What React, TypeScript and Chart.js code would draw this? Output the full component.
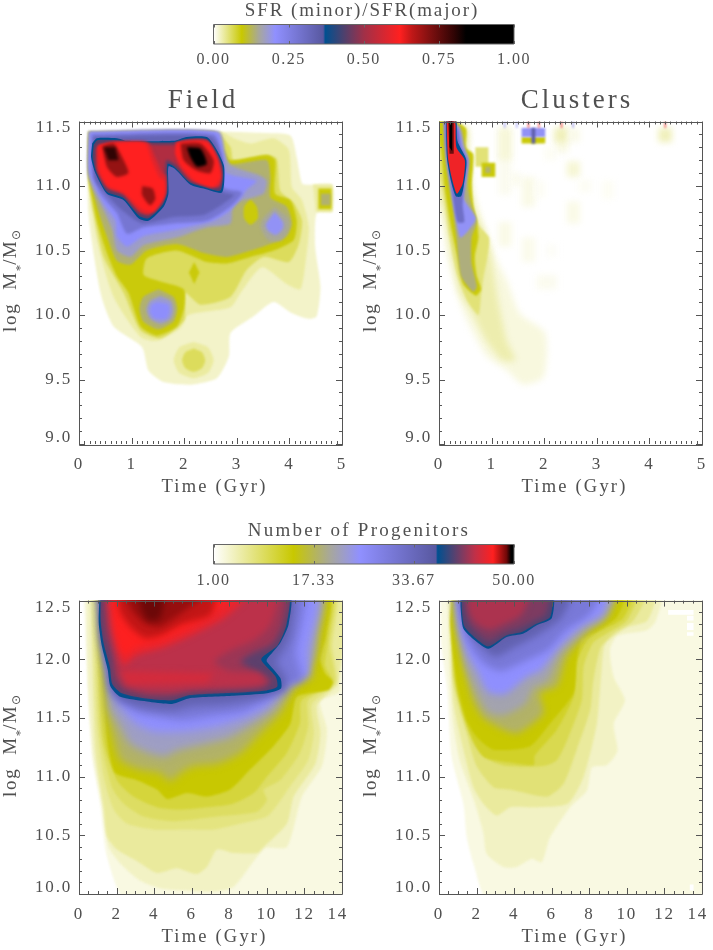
import React, { useEffect, useRef } from "react";
import { Chart, registerables } from "chart.js";

Chart.register(...registerables);

// shared colour table: fraction of the colour-bar range -> colour
const tableStops: [number, string][] = [
  [0, "#ffffff"], [0.094, "#c8c800"], [0.15, "#a8a898"], [0.205, "#9090ff"], [0.365, "#5858a0"], [0.372, "#005090"],
  [0.5, "#a03048"], [0.62, "#ff2020"], [0.66, "#c01818"], [0.72, "#801010"], [0.8, "#300404"], [0.84, "#000000"], [1, "#000000"],
];
const countStops: [number, string][] = [
  [0, "#ffffff"], [0.266, "#c8c800"], [0.385, "#a8a898"], [0.487, "#9090ff"], [0.74, "#5858a0"], [0.746, "#005090"],
  [0.87, "#c03048"], [0.93, "#ff2020"], [0.975, "#700808"], [0.99, "#000000"], [1, "#000000"],
];

const sfrTicks = [0, 0.25, 0.5, 0.75, 1];
const countTicks = [1, 17.33, 33.67, 50];

type Contour = [number, number[]];
type Cell = [number, number, number, number, number];

// Field, SFR ratio: [level, x,y,x,y,...] painted in order
const fieldContours: Contour[] = [
  [0.02, [0.18,11.42, 2.81,11.42, 3.51,11.41, 4.02,11.39, 4.14,11.22, 4.24,11.02, 4.37,11.01, 4.81,11.01, 4.81,10.8, 4.52,10.79, 4.49,10.53, 4.59,10.22, 4.52,9.99, 4.37,9.97, 4.02,10.02, 3.7,10.1, 3.32,9.99, 2.88,9.86, 2.85,9.68, 2.62,9.51, 2.12,9.46, 1.61,9.48, 1.32,9.57, 1.2,9.75, 0.66,9.91, 0.41,10.17, 0.18,10.79]],
  [0.035, [0.18,11.42, 2.69,11.42, 2.94,11.37, 3.26,11.33, 3.7,11.37, 3.99,11.28, 4.05,10.99, 4.24,10.89, 4.37,10.68, 4.32,10.45, 4.21,10.2, 3.95,10.24, 3.48,10.37, 3.07,10.17, 2.88,10.06, 2.08,10.0, 1.93,9.9, 1.48,9.8, 1.17,9.83, 0.66,10.14, 0.34,10.58, 0.18,11.04]],
  [0.035, [2.18,9.79, 2.45,9.75, 2.56,9.65, 2.45,9.55, 2.18,9.51, 1.91,9.55, 1.8,9.65, 1.91,9.75]],
  [0.06, [2.18,9.74, 2.34,9.71, 2.4,9.65, 2.34,9.59, 2.18,9.56, 2.02,9.59, 1.96,9.65, 2.02,9.71]],
  [0.035, [4.45,11.01, 4.82,11.01, 4.82,10.8, 4.5,10.8]],
  [0.09, [4.55,10.98, 4.8,10.98, 4.8,10.82, 4.55,10.82]],
  [0.135, [4.6,10.94, 4.78,10.94, 4.78,10.85, 4.6,10.85]],
  [0.06, [0.18,11.42, 2.59,11.42, 2.88,11.3, 2.94,11.2, 3.57,11.24, 3.76,11.21, 3.83,10.96, 4.08,10.87, 4.24,10.73, 4.18,10.55, 3.99,10.41, 3.51,10.45, 3.19,10.35, 2.88,10.14, 2.31,10.08, 2.02,10.17, 2.0,9.96, 1.55,9.82, 1.17,9.88, 0.85,10.17, 0.47,10.45, 0.28,10.79, 0.18,11.04]],
  [0.09, [2.09,10.33, 2.19,10.41, 2.29,10.33, 2.19,10.24]],
  [0.09, [0.18,11.38, 2.56,11.42, 2.76,11.28, 2.88,11.2, 3.57,11.24, 3.73,11.2, 3.73,10.94, 4.02,10.89, 4.14,10.73, 4.08,10.58, 3.7,10.5, 3.26,10.45, 2.81,10.4, 2.43,10.41, 1.86,10.5, 1.29,10.44, 1.23,10.31, 1.55,10.26, 1.99,10.2, 2.0,10.06, 1.86,9.91, 1.48,9.84, 1.17,9.91, 0.94,10.17, 0.72,10.3, 0.53,10.48, 0.34,10.73, 0.18,11.1]],
  [0.135, [0.18,11.42, 2.56,11.42, 2.72,11.26, 2.88,11.17, 3.57,11.2, 3.64,11.07, 3.64,10.91, 3.95,10.84, 4.05,10.71, 3.95,10.61, 3.64,10.55, 3.19,10.49, 2.81,10.45, 2.37,10.48, 1.86,10.55, 1.29,10.5, 0.98,10.39, 0.72,10.42, 0.53,10.61, 0.34,10.84, 0.18,11.12]],
  [0.09, [3.26,10.9, 3.38,10.84, 3.4,10.75, 3.26,10.7, 3.14,10.75, 3.14,10.84]],
  [0.135, [1.51,10.2, 1.8,10.14, 1.87,10.05, 1.8,9.95, 1.51,9.89, 1.22,9.95, 1.15,10.05, 1.22,10.14]],
  [0.18, [1.55,10.15, 1.75,10.11, 1.8,10.04, 1.75,9.97, 1.55,9.93, 1.35,9.97, 1.28,10.04, 1.35,10.11]],
  [0.21, [1.5,10.1, 1.7,10.08, 1.72,10.02, 1.65,9.97, 1.45,9.97, 1.35,10.02, 1.38,10.08]],
  [0.15, [3.72,10.84, 3.98,10.75, 4.0,10.68, 3.85,10.58, 3.6,10.58, 3.45,10.68, 3.5,10.75]],
  [0.2, [3.72,10.8, 3.88,10.72, 3.88,10.67, 3.75,10.62, 3.6,10.65, 3.55,10.7]],
  [0.175, [0.18,11.42, 2.66,11.42, 2.78,11.26, 2.88,11.16, 3.45,11.08, 3.57,11.04, 3.51,10.94, 2.94,10.86, 2.88,10.71, 2.43,10.68, 1.86,10.6, 1.23,10.54, 0.98,10.45, 0.72,10.5, 0.63,10.66, 0.47,10.81, 0.18,11.07]],
  [0.21, [0.2,11.42, 2.62,11.42, 2.75,11.25, 2.81,11.1, 3.38,11.04, 3.19,10.97, 3.0,10.86, 2.81,10.79, 2.56,10.73, 1.86,10.66, 1.23,10.61, 0.91,10.53, 0.72,10.61, 0.69,10.73, 0.47,10.86, 0.2,11.1]],
  [0.28, [0.24,11.4, 2.56,11.4, 2.72,11.22, 2.75,10.99, 3.1,10.95, 2.88,10.84, 2.43,10.73, 1.8,10.71, 1.23,10.68, 0.91,10.63, 0.72,10.79, 0.41,10.94, 0.26,11.1]],
  [0.33, [0.28,11.38, 2.5,11.38, 2.72,11.2, 2.72,10.96, 2.95,10.93, 2.4,10.78, 1.8,10.76, 1.2,10.71, 0.85,10.8, 0.6,10.9, 0.3,11.05]],
  [0.372, [0.25,11.33, 0.34,11.37, 0.72,11.37, 0.91,11.35, 1.8,11.35, 2.05,11.38, 2.43,11.38, 2.62,11.28, 2.76,11.15, 2.72,10.95, 2.37,10.98, 2.12,11.01, 1.83,11.13, 1.7,11.15, 1.7,10.94, 1.61,10.84, 1.32,10.73, 1.13,10.75, 0.85,10.89, 0.53,10.94, 0.31,11.1, 0.23,11.22]],
  [0.44, [0.28,11.32, 0.35,11.355, 0.72,11.355, 0.91,11.34, 1.8,11.34, 2.05,11.365, 2.42,11.365, 2.6,11.27, 2.73,11.15, 2.69,10.965, 2.37,10.995, 2.12,11.025, 1.81,11.15, 1.68,11.17, 1.67,10.95, 1.59,10.855, 1.32,10.75, 1.14,10.77, 0.85,10.905, 0.53,10.955, 0.33,11.11, 0.26,11.22]],
  [0.52, [0.32,11.29, 0.72,11.34, 1.0,11.33, 1.8,11.32, 2.05,11.35, 2.42,11.35, 2.58,11.26, 2.7,11.13, 2.66,10.99, 2.37,11.01, 2.12,11.04, 1.85,11.16, 1.66,11.2, 1.64,10.96, 1.56,10.87, 1.33,10.78, 1.15,10.8, 0.85,10.93, 0.55,10.98, 0.35,11.12]],
  [0.58, [0.34,11.31, 0.6,11.34, 1.3,11.34, 1.45,11.22, 1.58,11.1, 1.65,11.08, 1.65,10.95, 1.55,10.87, 1.33,10.78, 1.15,10.8, 0.85,10.94, 0.55,10.99, 0.36,11.12]],
  [0.58, [1.84,11.33, 2.05,11.35, 2.42,11.35, 2.58,11.25, 2.7,11.1, 2.66,11.0, 2.37,11.02, 2.13,11.05, 1.9,11.17]],
  [0.62, [0.37,11.32, 0.6,11.33, 1.25,11.33, 1.38,11.2, 1.52,11.07, 1.62,11.04, 1.62,10.92, 1.42,10.8, 1.2,10.82, 0.85,10.95, 0.55,11.0, 0.38,11.13]],
  [0.62, [1.86,11.34, 2.43,11.34, 2.62,11.22, 2.69,11.07, 2.56,10.99, 2.24,11.03, 1.96,11.15, 1.83,11.25]],
  [0.7, [0.44,11.31, 0.66,11.33, 0.85,11.2, 0.94,11.1, 0.72,11.07, 0.53,11.15]],
  [0.8, [0.47,11.3, 0.69,11.3, 0.75,11.2, 0.56,11.2]],
  [0.7, [1.2,11.0, 1.4,10.98, 1.45,10.9, 1.35,10.85, 1.2,10.93]],
  [0.7, [1.93,11.33, 2.31,11.33, 2.56,11.2, 2.5,11.1, 2.24,11.12, 1.99,11.2]],
  [0.85, [2.05,11.3, 2.31,11.29, 2.43,11.17, 2.24,11.15, 2.12,11.22]],
];

// Clusters, SFR ratio: isolated grid cells [x0,x1,y0,y1,level]
const clusterCells: Cell[] = [
  [1.13,1.38,10.93,11.45,0.006], [1.13,1.38,11.2,11.45,0.014], [1.57,2.02,11.33,11.38,0.09], [1.57,2.02,11.38,11.45,0.2], [1.76,1.83,11.33,11.45,0.35],
  [2.2,2.46,11.26,11.45,0.01], [2.2,2.46,11.34,11.45,0.025], [2.46,2.68,11.34,11.45,0.008], [4.17,4.43,11.34,11.45,0.025], [1.99,2.24,11.2,11.3,0.004],
  [2.43,2.68,11.07,11.19,0.016], [2.65,2.9,10.95,11.05,0.004], [3.1,3.33,10.9,11.04,0.004], [1.35,1.57,11.0,11.1,0.006], [1.57,1.83,10.84,11.07,0.009],
  [1.83,2.02,10.91,11.04,0.004], [2.43,2.68,10.71,10.88,0.009], [1.13,1.38,10.53,10.72,0.009], [1.57,1.83,10.41,10.6,0.007], [2.02,2.24,10.45,10.55,0.003],
  [1.86,2.24,10.2,10.31,0.006], [0.69,0.94,11.15,11.3,0.05], [0.81,1.07,11.07,11.18,0.09], [0.88,0.98,11.1,11.15,0.135],
  [1.24,1.26,11.45,11.5,0.2], [1.47,1.49,11.45,11.5,0.2], [1.69,1.71,11.45,11.5,0.6], [1.89,1.91,11.45,11.5,0.6], [2.32,2.34,11.45,11.5,0.6], [2.54,2.56,11.45,11.5,0.25], [4.29,4.31,11.45,11.5,0.6],
];
const clusterContours: Contour[] = [
  [0.012, [0,11.5, 0.53,11.45, 0.56,11.3, 0.65,10.97, 0.78,10.79, 1.07,10.45, 1.29,10.27, 1.54,10.01, 2.02,9.86, 1.99,9.52, 1.6,9.46, 1.29,9.57, 0.91,9.68, 0.53,9.96, 0.34,10.17, 0.15,10.48, 0.05,10.79, 0,11.04]],
  [0.03, [0,11.5, 0.53,11.45, 0.55,11.3, 0.62,10.95, 0.7,10.8, 0.95,10.55, 1.03,10.35, 1.13,10.1, 1.29,9.8, 1.45,9.65, 1.2,9.65, 0.9,9.8, 0.65,10.0, 0.4,10.17, 0.27,10.4, 0.08,10.8, 0,11.1]],
  [0.05, [0,11.5, 0.5,11.45, 0.52,11.3, 0.62,11.0, 0.65,10.85, 0.75,10.7, 0.95,10.6, 0.92,10.45, 0.85,10.3, 0.8,10.15, 0.75,10.0, 0.55,10.1, 0.35,10.3, 0.2,10.6, 0.05,11.0, 0,11.3]],
  [0.09, [0,11.5, 0.5,11.45, 0.5,11.3, 0.65,11.25, 0.65,11.15, 0.62,11.0, 0.65,10.85, 0.72,10.72, 0.75,10.6, 0.68,10.45, 0.72,10.3, 0.8,10.2, 0.7,10.15, 0.46,10.24, 0.35,10.45, 0.22,10.7, 0.1,11, 0.03,11.3]],
  [0.14, [0.08,11.5, 0.42,11.45, 0.5,11.3, 0.58,11.2, 0.55,11.0, 0.62,10.85, 0.72,10.72, 0.62,10.6, 0.62,10.4, 0.72,10.22, 0.65,10.18, 0.42,10.3, 0.33,10.6, 0.25,10.85, 0.12,11.2]],
  [0.2, [0.08,11.5, 0.38,11.45, 0.47,11.3, 0.56,11.2, 0.52,11.05, 0.48,10.9, 0.7,10.75, 0.55,10.65, 0.4,10.6, 0.3,10.8, 0.15,11.2]],
  [0.3, [0.1,11.5, 0.35,11.45, 0.42,11.3, 0.54,11.2, 0.48,11.0, 0.45,10.85, 0.48,10.72, 0.35,10.72, 0.25,10.95, 0.13,11.3]],
  [0.372, [0.13,11.5, 0.32,11.5, 0.35,11.35, 0.52,11.2, 0.47,11.0, 0.42,10.92, 0.32,10.92, 0.22,11.05, 0.15,11.22]],
  [0.6, [0.14,11.5, 0.3,11.5, 0.33,11.3, 0.49,11.2, 0.45,11.02, 0.34,10.94, 0.25,11.05, 0.17,11.22]],
  [0.74, [0.17,11.5, 0.28,11.5, 0.28,11.25, 0.2,11.25]],
  [0.9, [0.2,11.5, 0.25,11.5, 0.25,11.27, 0.2,11.3]],
];

// Field, number of progenitors
const fieldCountContours: Contour[] = [
  [2.5, [0.25,12.5, 14,12.5, 14,10, 2.64,10, 1.49,10.32, 1.13,10.77, 0.69,11.17, 0.46,11.74]],
  [4, [0.39,12.5, 13.8,12.5, 13.9,11.8, 13.85,11.72, 12.84,11.64, 13.2,11.4, 12.93,11.09, 11.87,10.83, 11.07,10.4, 9.9,10.39, 8.23,10.06, 7.17,10.02, 5.5,10.03, 4.3,10.05, 3.2,10.12, 2.2,10.26, 1.58,10.4, 1.22,10.77, 0.78,11.17, 0.51,11.74]],
  [6, [0.6,12.5, 13.65,12.5, 13.8,11.8, 12.67,11.61, 12.85,11.37, 12.58,11.11, 11.43,10.83, 11.07,10.6, 9.83,10.4, 9.5,10.35, 8.2,10.35, 7.35,10.38, 6.8,10.23, 6.27,10.17, 5.2,10.22, 4.15,10.18, 3.1,10.28, 2.02,10.38, 1.49,10.49, 1.31,10.74, 0.87,11.23]],
  [7.5, [0.75,12.5, 13.55,12.5, 13.5,12.1, 13.7,11.8, 12.4,11.62, 12.5,11.37, 12.2,11.14, 11.25,10.92, 10.6,10.77, 10,10.66, 8.6,10.6, 7.2,10.55, 5.75,10.55, 3.97,10.55, 2.55,10.6, 1.85,10.72, 1.31,11, 0.96,11.45]],
  [9, [0.9,12.5, 13.45,12.5, 13.35,12.1, 13.6,11.8, 12.2,11.65, 12.2,11.43, 11.75,11.2, 10.7,10.97, 9.83,10.89, 10,10.8, 9.47,10.7, 7.35,10.66, 5.04,10.62, 3.44,10.66, 2.38,10.77, 1.75,10.91, 1.13,11.37]],
  [11, [0.9,12.5, 13.35,12.5, 13.25,12.15, 13.1,11.95, 13.5,11.8, 11.85,11.65, 11.75,11.45, 11.05,11.2, 10,11, 9.3,10.86, 8.2,10.77, 6.8,10.74, 5.4,10.72, 4.15,10.74, 2.9,10.83, 2.02,10.97, 1.31,11.31]],
  [14, [1,12.5, 13.25,12.5, 13.15,12.2, 12.85,12, 13.1,11.88, 13.5,11.81, 13.3,11.74, 11.6,11.68, 11.25,11.45, 10.35,11.26, 9.1,11.06, 8.05,10.89, 6.8,10.83, 5.75,10.86, 4.7,10.81, 4.15,10.89, 3.09,10.97, 1.93,11.03, 1.5,11.31]],
  [18, [1.1,12.5, 12.9,12.5, 12.75,12.2, 12.5,11.98, 11.4,11.74, 10.7,11.54, 9.65,11.37, 8.6,11.2, 7.35,11.11, 6.1,11.09, 5.4,11.03, 4.85,10.96, 4.33,11.03, 3.26,11.06, 2.2,11.14, 1.75,11.37, 1.5,11.54]],
  [22, [1.1,12.5, 12.75,12.5, 12.6,12.2, 12.4,12, 11.2,11.76, 10.4,11.58, 9.3,11.45, 8,11.33, 6.5,11.27, 5.2,11.22, 4.6,11.17, 3.7,11.2, 2.7,11.28, 2.1,11.45, 1.6,11.6]],
  [25, [1.05,12.5, 12.6,12.5, 12.2,12.05, 12.3,11.85, 11,11.8, 10,11.6, 8.8,11.5, 7.2,11.42, 5.5,11.38, 4,11.38, 3,11.45, 2.2,11.6, 1.7,11.8, 1.3,12.1]],
  [30, [1.1,12.5, 11.85,12.5, 11.55,12.05, 11.9,11.82, 11.1,11.78, 10,11.66, 8.8,11.56, 7.2,11.52, 5.5,11.48, 4,11.52, 3,11.56, 2.2,11.68, 1.7,11.9, 1.3,12.2]],
  [35, [1.15,12.5, 11.3,12.5, 11.25,12.2, 10.8,12.05, 10.5,11.98, 11,11.85, 11,11.74, 10,11.68, 8,11.62, 6,11.6, 5,11.56, 3.6,11.58, 2.2,11.64, 1.65,11.74, 1.5,11.92, 1.15,12.2]],
  [37.6, [1.1,12.5, 11.16,12.5, 11.16,12.3, 10.72,12.14, 10,12, 10,11.98, 10.72,11.84, 10.75,11.75, 10,11.71, 8.23,11.69, 5.93,11.67, 4.95,11.62, 3.62,11.64, 2.2,11.68, 1.67,11.77, 1.53,11.91, 1.22,12.11, 1.05,12.31]],
  [40.5, [1.17,12.5, 11.08,12.5, 11.05,12.3, 10.58,12.12, 9.7,12, 10.48,11.85, 10.55,11.765, 10,11.735, 8.2,11.715, 5.9,11.695, 4.95,11.65, 3.6,11.665, 2.28,11.71, 1.77,11.79, 1.65,11.93, 1.32,12.13, 1.15,12.33]],
  [42.5, [1.3,12.5, 10.95,12.5, 10.85,12.3, 10.3,12.13, 9.2,12.05, 8.6,11.98, 9.4,11.9, 10.25,11.82, 9.8,11.76, 8.2,11.74, 5.9,11.72, 4.9,11.69, 3.6,11.69, 2.4,11.74, 1.9,11.84, 1.8,12, 1.45,12.2]],
  [43.5, [1.45,12.5, 10.5,12.5, 10.2,12.3, 9.4,12.17, 8,12.07, 7.2,11.98, 8,11.9, 9.6,11.88, 9.9,11.8, 9,11.77, 6,11.75, 4.9,11.73, 3.5,11.74, 2.5,11.8, 2.1,11.92, 1.9,12.1, 1.6,12.3]],
  [44.5, [2.2,11.9, 7.2,11.88, 6.8,11.8, 2.55,11.78]],
  [45.6, [1.6,12.5, 9,12.5, 7.8,12.36, 6.2,12.22, 4.5,12.1, 3,12.03, 2.4,11.95, 2.1,12.05, 1.8,12.28]],
  [46.6, [1.7,12.5, 8.2,12.5, 7.2,12.4, 6,12.28, 4.5,12.17, 3,12.1, 2.5,12.04, 2.2,12.08, 1.9,12.25]],
  [47.5, [2,12.5, 7.2,12.5, 7,12.38, 5.5,12.3, 4.3,12.2, 3.5,12.18, 2.7,12.28, 2.2,12.4]],
  [48.2, [2.3,12.5, 6.8,12.5, 5.5,12.4, 4.3,12.28, 3.6,12.3, 2.9,12.4]],
  [48.8, [3.1,12.5, 4.5,12.5, 4.3,12.35, 3.7,12.33, 3.4,12.4]],
];

// Clusters, number of progenitors
const clusterCountContours: Contour[] = [
  [2.5, [0.05,12.5, 14,12.5, 14,10, 2.72,10, 1.83,10.26, 1.47,10.49, 1.3,10.77, 0.67,11.17, 0.44,11.74, 0.14,12.11]],
  [4, [0.44,12.5, 11.8,12.5, 11.55,12.33, 11.1,12.25, 9.5,12.2, 9.1,12.08, 9.3,11.85, 9.9,11.65, 9.3,11.45, 9.5,11.22, 8.95,11.1, 8.14,11.08, 7.87,10.88, 6.98,10.74, 5.9,10.48, 5.47,10.27, 4.94,10.3, 4.14,10.23, 3.43,10.23, 2.54,10.34, 2.36,10.52, 1.9,10.78, 1.1,11.14, 0.76,11.45, 0.55,11.9]],
  [6, [0.6,12.5, 11.45,12.5, 11.1,12.33, 10,12.27, 8.85,12.13, 8.65,11.9, 8.4,11.45, 7.7,11, 6.85,10.77, 5.1,10.74, 3.8,10.74, 3.07,10.67, 2.36,10.77, 1.83,10.91, 1.3,11.23, 0.76,11.65]],
  [8, [0.7,12.5, 10.97,12.5, 10.35,12.33, 9.3,12.22, 8.6,12.1, 8.2,11.8, 8.05,11.57, 7.33,11.23, 6.63,10.94, 5.74,10.83, 3.78,10.89, 2.9,10.91, 2,11.09, 1.47,11.37, 0.76,11.8]],
  [10, [0.75,12.5, 10.5,12.5, 10,12.33, 8.93,12.22, 8.2,12.14, 7.7,11.94, 7.6,11.65, 6.9,11.34, 6.27,11.14, 5.56,11.09, 3.6,11.09, 2.72,11.14, 1.92,11.26, 1.3,11.51, 0.76,11.88]],
  [12, [0.8,12.5, 10.27,12.5, 9.8,12.35, 8.58,12.24, 7.87,12.16, 7.33,11.97, 7.16,11.68, 6.27,11.4, 5.1,11.18, 5.03,11.1, 3.8,11.12, 2.36,11.17, 1.65,11.37, 0.94,11.77]],
  [14, [0.7,12.5, 9.85,12.5, 9.47,12.36, 8.4,12.24, 7.6,12.17, 7.33,11.99, 7.16,11.71, 5.9,11.45, 4.85,11.26, 2.9,11.23, 2,11.34, 1.47,11.48, 0.94,11.8, 0.59,12.3]],
  [18, [0.76,12.5, 9.4,12.5, 9,12.36, 7.87,12.22, 6.8,12.02, 6.27,11.77, 5.38,11.71, 5.56,11.54, 4.2,11.37, 3.43,11.4, 2.36,11.5, 1.83,11.64, 1.47,11.85, 1,12.2]],
  [21, [0.8,12.5, 9.2,12.5, 8.8,12.36, 7.8,12.25, 6.5,12.05, 5.8,11.82, 5,11.75, 4.6,11.62, 3.4,11.52, 2.6,11.55, 1.9,11.75, 1.4,11.95, 1,12.25]],
  [25, [0.85,12.5, 9,12.5, 8.7,12.38, 7.6,12.28, 6.4,12.1, 5.4,11.9, 4.7,11.85, 3.5,11.7, 2.6,11.72, 2,11.9, 1.5,12.05, 1.05,12.3]],
  [30, [1,12.5, 8.6,12.5, 8,12.38, 6.8,12.25, 5.8,12.08, 4.5,11.98, 3.3,11.9, 2.5,11.95, 1.9,12.05, 1.4,12.2]],
  [35, [1.1,12.5, 7,12.5, 6.5,12.35, 5.2,12.2, 4,12.1, 3,12.02, 2.3,12.1, 1.6,12.25]],
  [37.6, [1.15,12.5, 6,12.5, 6,12.35, 5.2,12.29, 4.5,12.22, 3.6,12.19, 2.63,12.09, 1.92,12.16, 1.3,12.26, 1.15,12.44]],
  [40, [1.22,12.5, 5.92,12.5, 5.92,12.36, 5.15,12.3, 4.45,12.235, 3.6,12.205, 2.63,12.11, 1.95,12.18, 1.35,12.28, 1.22,12.42]],
  [41.5, [1.35,12.5, 5.8,12.5, 5.7,12.38, 5,12.32, 4.3,12.26, 3.5,12.22, 2.65,12.15, 2,12.22, 1.5,12.32]],
  [43, [1.5,12.5, 4.8,12.5, 4.4,12.38, 3.5,12.3, 2.7,12.25, 2,12.3, 1.6,12.4]],
];
const clusterCountCells: Cell[] = [
  [12.2,13.55,12.38,12.42,1], [13.2,13.55,12.33,12.37,1], [13.2,13.55,12.25,12.31,1], [13.2,13.55,12.2,12.23,1], [13.35,13.55,10.03,10.08,1],
];

const INK = "#505050";
const FONT = '"Liberation Serif", serif';

function mix(stops: [number, string][], t: number): string {
  const c = Math.max(0, Math.min(1, t));
  for (let i = 1; i < stops.length; i++) {
    if (c <= stops[i][0]) {
      const [a, ca] = stops[i - 1];
      const [b, cb] = stops[i];
      const f = (c - a) / (b - a || 1);
      const ch = (s: string, k: number) => parseInt(s.substr(1 + 2 * k, 2), 16);
      const v = [0, 1, 2].map((k) => Math.round(ch(ca, k) + (ch(cb, k) - ch(ca, k)) * f));
      return `rgb(${v[0]},${v[1]},${v[2]})`;
    }
  }
  return stops[stops.length - 1][1];
}

function put(ctx: CanvasRenderingContext2D, s: string, x: number, y: number, size: number, gap: number, align: CanvasTextAlign = "center") {
  ctx.font = `${size}px ${FONT}`;
  (ctx as any).letterSpacing = `${gap}px`;
  ctx.textAlign = align;
  ctx.textBaseline = "middle";
  ctx.fillStyle = INK;
  ctx.fillText(s, x, y);
}

function yTitle(ctx: CanvasRenderingContext2D, x: number, y: number) {
  ctx.save();
  ctx.translate(x, y);
  ctx.rotate(-Math.PI / 2);
  ctx.fillStyle = INK;
  ctx.textAlign = "left";
  ctx.textBaseline = "alphabetic";
  let at = 0;
  const seg = (s: string, size: number, drop: number, gap: number, fam = FONT) => {
    ctx.font = `${size}px ${fam}`;
    (ctx as any).letterSpacing = `${gap}px`;
    ctx.fillText(s, at, drop);
    at += ctx.measureText(s).width;
  };
  seg("log  M", 19, 0, 1.7);
  seg("*", 13, 8, 0);
  seg("/M", 19, 0, 1.2);
  seg("⊙", 12, 4, 0, '"DejaVu Sans", sans-serif');
  ctx.restore();
}

interface PanelSpec {
  box: [number, number, number, number];
  xr: [number, number, number, number];
  yr: [number, number, number, number];
  contours: Contour[];
  cells: Cell[];
  cellsFirst: boolean;
  stops: [number, string][];
  range: [number, number];
  title?: string;
  titleX?: number;
  blur: (v: number, isCell: boolean) => number;
}

const panels: PanelSpec[] = [
  { box: [79, 121.5, 342, 444], xr: [0, 5, 1, 0.1], yr: [9, 11.5, 0.5, 0.1], contours: fieldContours, cells: [], cellsFirst: false, stops: tableStops, range: [0, 1], title: "Field", titleX: 203,
    blur: (v) => (v >= 0.15 && v < 0.36 ? 1.8 : v > 0.37 && v < 0.5 ? 0.5 : v >= 0.5 ? 1.5 : v >= 0.37 ? 0.5 : 1.1) },
  { box: [439, 121.5, 702, 444], xr: [0, 5, 1, 0.1], yr: [9, 11.5, 0.5, 0.1], contours: clusterContours, cells: clusterCells, cellsFirst: true, stops: tableStops, range: [0, 1], title: "Clusters", titleX: 577,
    blur: (v, isCell) => (isCell ? (v < 0.04 ? 3 : 1) : v < 0.05 ? 3 : v >= 0.37 ? 0.6 : 1.1) },
  { box: [79, 600.6, 342, 894], xr: [0, 14, 2, 0.5], yr: [10, 12.5, 0.5, 0.1], contours: fieldCountContours, cells: [], cellsFirst: false, stops: countStops, range: [1, 50],
    blur: (v) => (v >= 15 && v < 37 ? 4 : v >= 37 && v < 41 ? 0.5 : v >= 41 ? 3 : 1.1) },
  { box: [439, 600.6, 702, 894], xr: [0, 14, 2, 0.5], yr: [10, 12.5, 0.5, 0.1], contours: clusterCountContours, cells: clusterCountCells, cellsFirst: false, stops: countStops, range: [1, 50],
    blur: (v, isCell) => (isCell ? 0.4 : v >= 15 && v < 37 ? 3.5 : v >= 37 && v < 41 ? 0.5 : v >= 41 ? 3 : 1.1) },
];

function makePanel(canvas: HTMLCanvasElement, p: PanelSpec) {
  const [l, t, r, b] = p.box;
  const color = (v: number) => mix(p.stops, (v - p.range[0]) / (p.range[1] - p.range[0]));
  const cellPolys: Contour[] = p.cells.map(([x0, x1, y0, y1, v]) => [v, [x0, y0, x1, y0, x1, y1, x0, y1]] as Contour);
  const polys: Contour[] = p.cellsFirst ? [...cellPolys, ...p.contours] : [...p.contours, ...cellPolys];
  const cellSet = new Set(cellPolys);
  const n = polys.length;
  const isMajor = (v: number, m: number) => Math.abs(v / m - Math.round(v / m)) < 1e-6;
  const setBlur = (ctx: any, i: number) => {
    if (i >= n) { ctx.filter = "none"; return; }
    ctx.filter = `blur(${p.blur(polys[i][0], cellSet.has(polys[i]))}px)`;
  };
  // blurred edges must not fade at the axis: shapes touching the frame run a little past it
  const over = (v: number, lo: number, hi: number) => (v >= hi - 1e-9 ? hi + (hi - lo) * 0.03 : v <= lo + 1e-9 ? lo - (hi - lo) * 0.03 : v);
  const frame = {
    id: "frame",
    beforeDatasetsDraw(c: any) { setBlur(c.ctx, 0); },
    afterDatasetDraw(c: any, args: any) { setBlur(c.ctx, args.index + 1); },
    afterDatasetsDraw(c: any) { (c.ctx as any).filter = "none"; },
    afterDraw(c: any) {
      const ctx: CanvasRenderingContext2D = c.ctx;
      const xs = c.scales.x, ys = c.scales.y;
      ctx.save();
      ctx.strokeStyle = "#555555";
      ctx.lineWidth = 1;
      ctx.beginPath();
      ctx.rect(Math.round(l) + 0.5, Math.round(t) + 0.5, Math.round(r - l), Math.round(b - t));
      for (const tk of xs.ticks) {
        const px = Math.round(xs.getPixelForValue(tk.value)) + 0.5;
        const len = isMajor(tk.value, p.xr[2]) ? 6 : 3;
        ctx.moveTo(px, b); ctx.lineTo(px, b - len);
        ctx.moveTo(px, t); ctx.lineTo(px, t + len);
      }
      for (const tk of ys.ticks) {
        const py = Math.round(ys.getPixelForValue(tk.value)) + 0.5;
        const len = isMajor(tk.value, p.yr[2]) ? 6 : 3;
        ctx.moveTo(l, py); ctx.lineTo(l + len, py);
        ctx.moveTo(r, py); ctx.lineTo(r - len, py);
      }
      ctx.stroke();
      for (const tk of xs.ticks) {
        if (!isMajor(tk.value, p.xr[2])) continue;
        const s = String(Math.round(tk.value));
        ctx.font = `17px ${FONT}`;
        (ctx as any).letterSpacing = "1.8px";
        const w = ctx.measureText(s).width;
        put(ctx, s, Math.min(xs.getPixelForValue(tk.value), r - w / 2 + 6), b + 21, 17, 1.8);
      }
      for (const tk of ys.ticks) {
        if (!isMajor(tk.value, p.yr[2])) continue;
        const py = Math.max(t + 6.5, Math.min(b - 6, ys.getPixelForValue(tk.value)));
        put(ctx, tk.value.toFixed(1), l - 7, py, 17, 1.8, "right");
      }
      put(ctx, "Time (Gyr)", (l + r) / 2 + 4, b + 43.5, 18.5, 2.2);
      yTitle(ctx, l - 63, b - (b > 500 ? 97 : 112));
      if (p.title) put(ctx, p.title, p.titleX!, 100.5, 27, 3);
      ctx.restore();
    },
  };
  return new Chart(canvas, {
    type: "scatter",
    data: {
      datasets: polys.map(([v, flat], i) => {
        const pts: { x: number; y: number }[] = [];
        for (let k = 0; k < flat.length; k += 2) pts.push({ x: over(flat[k], p.xr[0], p.xr[1]), y: over(flat[k + 1], p.yr[0], p.yr[1]) });
        pts.push(pts[0]);
        return {
          data: pts,
          showLine: true,
          fill: "shape",
          backgroundColor: color(v),
          borderWidth: 0,
          pointRadius: 0,
          tension: flat.length > 8 ? 0.22 : 0,
          order: n - i,
        };
      }),
    },
    options: {
      responsive: false,
      animation: false,
      events: [],
      layout: { padding: { left: l, top: t, right: 713 - r, bottom: 950 - b } },
      plugins: { legend: { display: false }, tooltip: { enabled: false }, title: { display: false } },
      scales: {
        x: { type: "linear", display: false, min: p.xr[0], max: p.xr[1], ticks: { stepSize: p.xr[3], autoSkip: false, maxTicksLimit: 200 } },
        y: { type: "linear", display: false, min: p.yr[0], max: p.yr[1], ticks: { stepSize: p.yr[3], autoSkip: false, maxTicksLimit: 200 } },
      },
    } as any,
    plugins: [frame],
  } as any);
}

interface BarSpec {
  top: number;
  stops: [number, string][];
  ticks: number[];
  range: [number, number];
  title: string;
  titleX: number;
  titleGap: number;
  titleY: number;
  labelY: number;
}

const bars: BarSpec[] = [
  { top: 24.5, stops: tableStops, ticks: sfrTicks, range: [0, 1], title: "SFR (minor)/SFR(major)", titleX: 362, titleGap: 1.9, titleY: 11, labelY: 60 },
  { top: 544.5, stops: countStops, ticks: countTicks, range: [1, 50], title: "Number of Progenitors", titleX: 359, titleGap: 2.25, titleY: 531, labelY: 581 },
];

function makeBar(canvas: HTMLCanvasElement, s: BarSpec) {
  const l = 213.5, r = 514, t = s.top, b = s.top + 19.5;
  const deco = {
    id: "deco",
    afterDraw(c: any) {
      const ctx: CanvasRenderingContext2D = c.ctx;
      const xs = c.scales.x;
      ctx.save();
      ctx.strokeStyle = "#666666";
      ctx.lineWidth = 1;
      ctx.beginPath();
      ctx.rect(l, t, r - l, b - t);
      for (const v of s.ticks) {
        const px = Math.round(xs.getPixelForValue(v)) + 0.5;
        ctx.moveTo(px, t); ctx.lineTo(px, t + 3);
        ctx.moveTo(px, b); ctx.lineTo(px, b - 3);
      }
      ctx.stroke();
      for (const v of s.ticks) put(ctx, v.toFixed(2), xs.getPixelForValue(v), s.labelY, 16, 1.5);
      put(ctx, s.title, s.titleX, s.titleY, 19, s.titleGap);
      ctx.restore();
    },
  };
  return new Chart(canvas, {
    type: "bar",
    data: {
      labels: [""],
      datasets: [{
        data: [[s.range[0], s.range[1]]],
        borderWidth: 0,
        barPercentage: 1,
        categoryPercentage: 1,
        backgroundColor: (ctx: any) => {
          const area = ctx.chart.chartArea;
          if (!area) return "#888";
          const g = ctx.chart.ctx.createLinearGradient(area.left, 0, area.right, 0);
          s.stops.forEach(([f, col]) => g.addColorStop(f, col));
          return g;
        },
      }],
    },
    options: {
      indexAxis: "y",
      responsive: false,
      animation: false,
      events: [],
      layout: { padding: { left: l, top: t, right: 713 - r, bottom: 950 - b } },
      plugins: { legend: { display: false }, tooltip: { enabled: false } },
      scales: {
        x: { type: "linear", display: false, min: s.range[0], max: s.range[1] },
        y: { type: "category", display: false },
      },
    } as any,
    plugins: [deco],
  } as any);
}

export default function App() {
  const refs = useRef<(HTMLCanvasElement | null)[]>([]);
  useEffect(() => {
    const charts: Chart[] = [];
    panels.forEach((p, i) => charts.push(makePanel(refs.current[i]!, p)));
    bars.forEach((s, i) => charts.push(makeBar(refs.current[panels.length + i]!, s)));
    return () => charts.forEach((c) => c.destroy());
  }, []);
  const count = panels.length + bars.length;
  return (
    <div style={{ position: "absolute", left: 0, top: 0, width: 713, height: 950, background: "#fff" }}>
      {Array.from({ length: count }, (_, i) => (
        <canvas
          key={i}
          ref={(el) => { refs.current[i] = el; }}
          width={713}
          height={950}
          style={{ position: "absolute", left: 0, top: 0, width: 713, height: 950 }}
        />
      ))}
    </div>
  );
}
